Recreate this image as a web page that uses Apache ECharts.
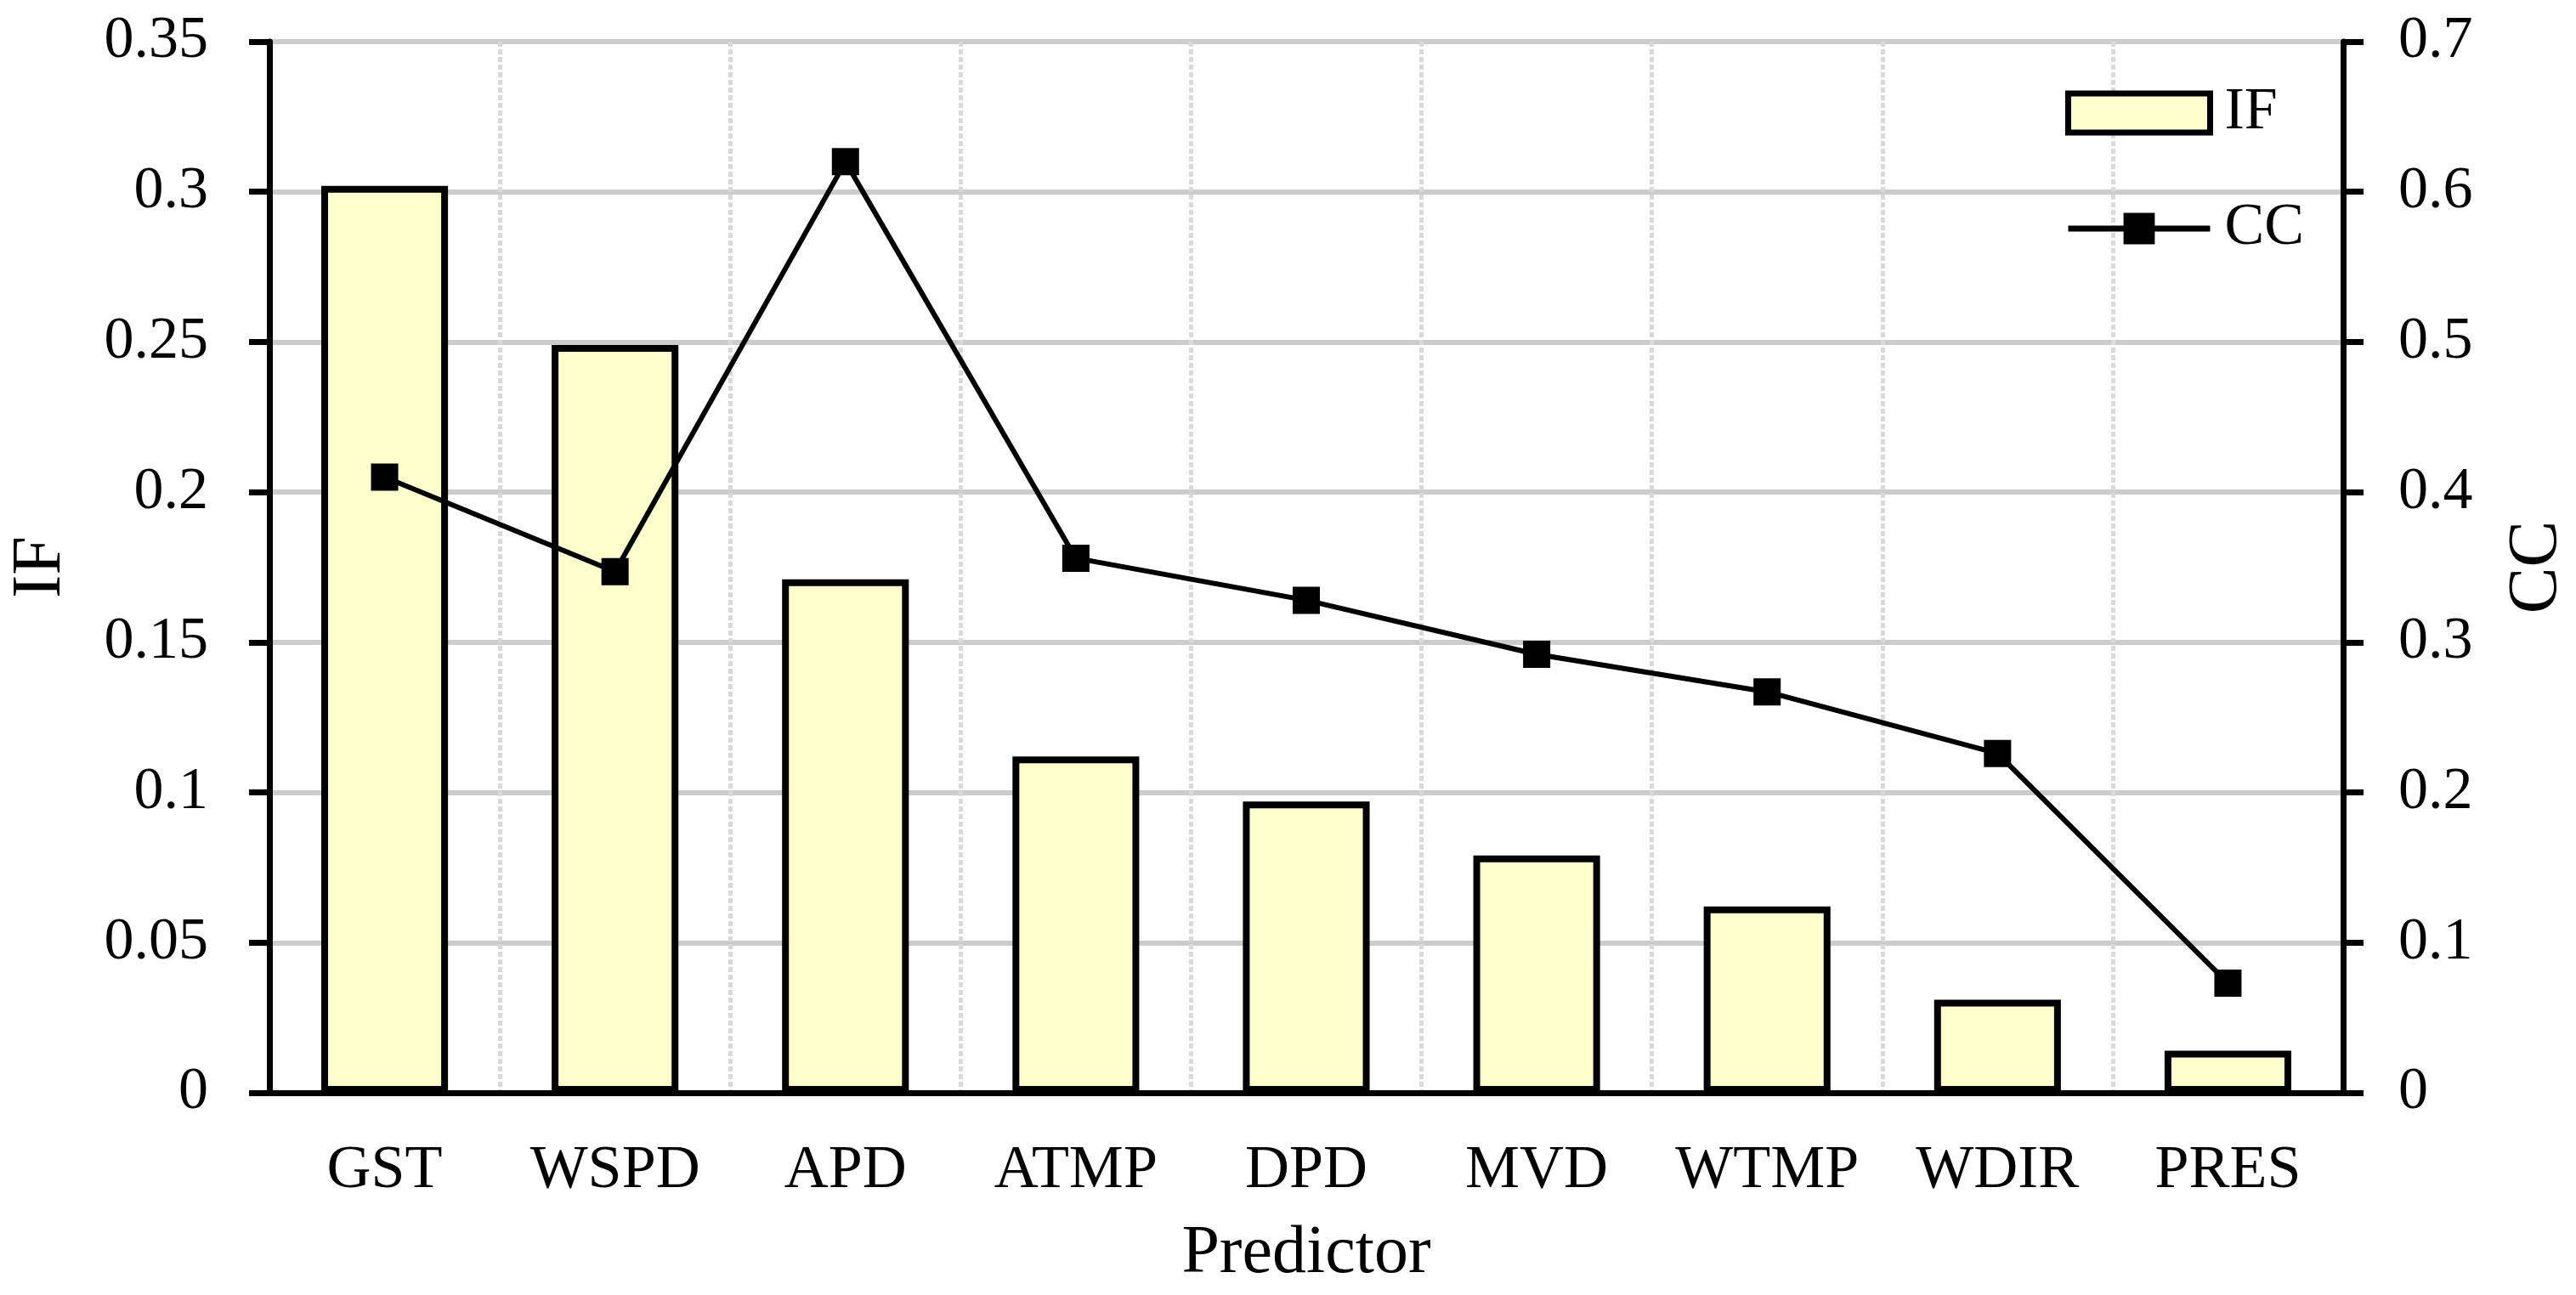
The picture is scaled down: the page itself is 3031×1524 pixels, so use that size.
<!DOCTYPE html>
<html>
<head>
<meta charset="utf-8">
<script src="https://cdn.jsdelivr.net/npm/echarts@6/dist/echarts.min.js"></script>
<style>
html,body{margin:0;padding:0;background:#fff;}
#chart{width:3031px;height:1524px;}
</style>
</head>
<body>
<div id="chart"></div>
<script>
const categories = ['GST', 'WSPD', 'APD', 'ATMP', 'DPD', 'MVD', 'WTMP', 'WDIR', 'PRES'];
const ifValues = [0.302, 0.249, 0.171, 0.112, 0.097, 0.079, 0.062, 0.031, 0.014];
const ccValues = [0.410, 0.347, 0.620, 0.356, 0.328, 0.292, 0.267, 0.226, 0.073];
const leftAxisRange = [0, 0.35, 0.05];
const rightAxisRange = [0, 0.7, 0.1];

const FONT = "'Liberation Serif', 'Times New Roman', serif";
const chart = echarts.init(document.getElementById('chart'), null, {renderer: 'canvas'});

chart.setOption({
  backgroundColor: '#ffffff',
  animation: false,
  textStyle: {fontFamily: FONT, color: '#000'},
  grid: {left: 317, right: 274, top: 49, bottom: 238, outerBoundsMode: 'none'},
  legend: {
    orient: 'vertical',
    left: 2425,
    top: 93,
    itemWidth: 167,
    itemHeight: 46,
    itemGap: 66,
    textStyle: {fontFamily: FONT, fontSize: 70, color: '#000', padding: [0, 0, 0, 12]},
    data: [
      {name: 'IF', icon: 'rect', itemStyle: {color: '#ffffcc', borderColor: '#000', borderWidth: 7}},
      {name: 'CC', lineStyle: {color: '#000', width: 7}, itemStyle: {color: '#000'}}
    ]
  },
  xAxis: [
    {
      type: 'category',
      data: categories,
      position: 'bottom',
      axisLine: {show: true, lineStyle: {color: '#000', width: 7}},
      axisTick: {show: false},
      axisLabel: {fontFamily: FONT, fontSize: 72, color: '#000', margin: 56, interval: 0},
      splitLine: {show: true, interval: 0, lineStyle: {color: '#d9d9d9', width: 5, type: [6, 3]}},
      name: 'Predictor',
      nameLocation: 'middle',
      nameGap: 150,
      nameTextStyle: {fontFamily: FONT, fontSize: 80, color: '#000'}
    },
    {
      type: 'category',
      data: categories,
      position: 'top',
      axisLine: {show: true, lineStyle: {color: '#000', width: 7}},
      axisTick: {show: false},
      axisLabel: {show: false},
      splitLine: {show: false}
    }
  ],
  yAxis: [
    {
      type: 'value',
      min: leftAxisRange[0],
      max: leftAxisRange[1],
      interval: leftAxisRange[2],
      position: 'left',
      axisLine: {show: true, lineStyle: {color: '#000', width: 7}},
      axisTick: {show: true, inside: false, length: 24, lineStyle: {color: '#000', width: 7}},
      axisLabel: {fontFamily: FONT, fontSize: 70, color: '#000', margin: 72},
      splitLine: {show: true, lineStyle: {color: '#cccccc', width: 6}},
      name: 'IF',
      nameLocation: 'middle',
      nameRotate: 90,
      nameGap: 228,
      nameTextStyle: {fontFamily: FONT, fontSize: 82, color: '#000'}
    },
    {
      type: 'value',
      min: rightAxisRange[0],
      max: rightAxisRange[1],
      interval: rightAxisRange[2],
      position: 'right',
      axisLine: {show: true, lineStyle: {color: '#000', width: 7}},
      axisTick: {show: true, inside: false, length: 24, lineStyle: {color: '#000', width: 7}},
      axisLabel: {fontFamily: FONT, fontSize: 70, color: '#000', margin: 65},
      splitLine: {show: false},
      name: 'CC',
      nameLocation: 'middle',
      nameRotate: 90,
      nameGap: 187,
      nameTextStyle: {fontFamily: FONT, fontSize: 82, color: '#000'}
    }
  ],
  series: [
    {
      name: 'IF',
      type: 'bar',
      xAxisIndex: 0,
      yAxisIndex: 0,
      data: ifValues,
      barWidth: '55%',
      itemStyle: {color: '#ffffcc', borderColor: '#000', borderWidth: 8}
    },
    {
      name: 'CC',
      type: 'line',
      xAxisIndex: 0,
      yAxisIndex: 1,
      data: ccValues,
      symbol: 'rect',
      symbolSize: 32,
      lineStyle: {color: '#000', width: 6},
      itemStyle: {color: '#000'},
      z: 5
    }
  ]
});
</script>
</body>
</html>
